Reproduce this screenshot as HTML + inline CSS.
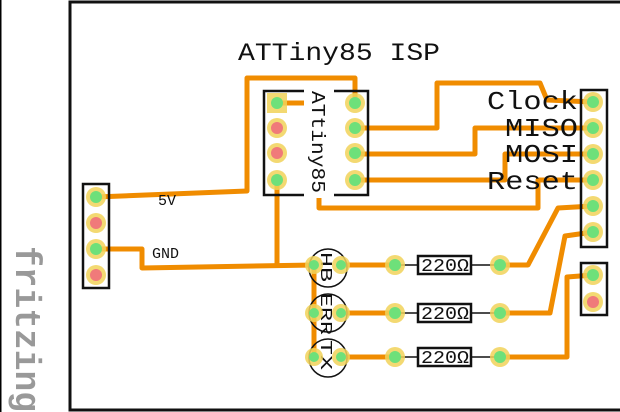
<!DOCTYPE html>
<html><head><style>body{margin:0;background:#fff;overflow:hidden}svg{display:block}</style></head><body>
<svg width="620" height="412" viewBox="0 0 620 412" xmlns="http://www.w3.org/2000/svg">
<rect x="0" y="0" width="620" height="412" fill="#fff"/>
<line x1="0.5" y1="0" x2="0.5" y2="412" stroke="#000" stroke-width="2"/>
<rect x="70" y="2" width="580" height="408" fill="#fff" stroke="#111" stroke-width="3"/>
<text transform="translate(16,246) rotate(90)" font-family="Liberation Mono, monospace" font-size="36" fill="#999" font-weight="bold" textLength="166" lengthAdjust="spacingAndGlyphs">fritzing</text>
<g fill="none" stroke="#f08c00" stroke-width="5" stroke-linejoin="round">
<polyline points="96,197 247,191 247,78 355,78 355,103"/>
<polyline points="277,103 312,103 319,110 319,208 538,208 538,180 593,180"/>
<polyline points="355,128 437,128 437,83 540,83 547,100 593,102"/>
<polyline points="355,154 475,154 475,128 593,128"/>
<polyline points="355,180 505,180 505,154 593,154"/>
<polyline points="96,249 142,249 142,268 314,265"/>
<polyline points="277,180 277,268"/>
<polyline points="314,265 314,357"/>
<polyline points="593,206 558,208 528,265 500,265"/>
<polyline points="593,232 565,236 550,313 500,313"/>
<polyline points="593,275 567,277 567,357 500,357"/>
<line x1="341" y1="265" x2="395" y2="265"/>
<line x1="341" y1="313" x2="395" y2="313"/>
<line x1="341" y1="357" x2="395" y2="357"/>
</g>
<g fill="none" stroke="#111" stroke-width="2.5">
<rect x="83" y="184" width="26" height="104"/>
<rect x="264" y="91" width="104" height="104"/>
<rect x="581" y="90" width="26" height="157"/>
<rect x="581" y="263" width="26" height="52"/>
</g>
<rect x="304" y="86" width="30" height="112" fill="#fff"/>
<text transform="translate(312,91) rotate(90)" font-family="Liberation Mono, monospace" font-size="19" fill="#111" textLength="102" lengthAdjust="spacingAndGlyphs">ATtiny85</text>
<g fill="none" stroke="#111" stroke-width="1.5">
<circle cx="328" cy="268" r="19"/><circle cx="328" cy="313" r="19"/><circle cx="328" cy="358" r="19"/>
<line x1="400" y1="265" x2="495" y2="265"/><line x1="400" y1="313" x2="495" y2="313"/><line x1="400" y1="357" x2="495" y2="357"/>
</g>
<g fill="#fff" stroke="#111" stroke-width="2.5">
<rect x="418" y="256" width="53" height="18"/><rect x="418" y="304" width="53" height="18"/><rect x="418" y="348" width="53" height="18"/>
</g>
<g font-family="Liberation Mono, DejaVu Sans Mono, monospace" font-size="18" fill="#111">
<text x="421" y="271" textLength="48" lengthAdjust="spacingAndGlyphs">220Ω</text><text x="421" y="319" textLength="48" lengthAdjust="spacingAndGlyphs">220Ω</text><text x="421" y="363" textLength="48" lengthAdjust="spacingAndGlyphs">220Ω</text>
</g>
<g font-family="Liberation Mono, monospace" font-size="17" fill="#111">
<text transform="translate(321,252) rotate(90)" textLength="30" lengthAdjust="spacingAndGlyphs">HB</text>
<text transform="translate(321,293) rotate(90)" textLength="42" lengthAdjust="spacingAndGlyphs">ERR</text>
<text transform="translate(321,340) rotate(90)" textLength="30" lengthAdjust="spacingAndGlyphs">TX</text>
</g>
<g font-family="Liberation Mono, monospace" font-size="15" fill="#111">
<text x="158" y="205">5V</text>
<text x="152" y="258">GND</text>
</g>
<text x="238" y="60" font-family="Liberation Mono, monospace" font-size="25" fill="#111" textLength="202" lengthAdjust="spacingAndGlyphs">ATTiny85 ISP</text>
<g font-family="Liberation Mono, monospace" font-size="26" fill="#111">
<text x="487" y="109" textLength="91" lengthAdjust="spacingAndGlyphs">Clock</text>
<text x="505" y="136" textLength="73" lengthAdjust="spacingAndGlyphs">MISO</text>
<text x="505" y="162" textLength="73" lengthAdjust="spacingAndGlyphs">MOSI</text>
<text x="487" y="189" textLength="91" lengthAdjust="spacingAndGlyphs">Reset</text>
</g>
<g fill="#f2d35a" opacity="0.85">
<circle cx="96" cy="197" r="10"/><circle cx="96" cy="223" r="10"/><circle cx="96" cy="249" r="10"/><circle cx="96" cy="275" r="10"/>
<rect x="267" y="93" width="20" height="20"/><circle cx="277" cy="128" r="10"/><circle cx="277" cy="153" r="10"/><circle cx="277" cy="180" r="10"/>
<circle cx="355" cy="103" r="10"/><circle cx="355" cy="128" r="10"/><circle cx="355" cy="153" r="10"/><circle cx="355" cy="180" r="10"/>
<circle cx="593" cy="102" r="10"/><circle cx="593" cy="128" r="10"/><circle cx="593" cy="154" r="10"/><circle cx="593" cy="180" r="10"/><circle cx="593" cy="206" r="10"/><circle cx="593" cy="232" r="10"/>
<circle cx="593" cy="275" r="10"/><circle cx="593" cy="302" r="10"/>
<circle cx="314" cy="265" r="9"/><circle cx="341" cy="265" r="9"/><circle cx="314" cy="313" r="9"/><circle cx="341" cy="313" r="9"/><circle cx="314" cy="357" r="9"/><circle cx="341" cy="357" r="9"/>
<circle cx="395" cy="265" r="10"/><circle cx="500" cy="265" r="10"/><circle cx="395" cy="313" r="10"/><circle cx="500" cy="313" r="10"/><circle cx="395" cy="357" r="10"/><circle cx="500" cy="357" r="10"/>
</g>
<g fill="#6ee07a">
<circle cx="96" cy="197" r="6"/><circle cx="96" cy="249" r="6"/>
<circle cx="277" cy="103" r="6"/><circle cx="277" cy="180" r="6"/>
<circle cx="355" cy="103" r="6"/><circle cx="355" cy="128" r="6"/><circle cx="355" cy="153" r="6"/><circle cx="355" cy="180" r="6"/>
<circle cx="593" cy="102" r="6"/><circle cx="593" cy="128" r="6"/><circle cx="593" cy="154" r="6"/><circle cx="593" cy="180" r="6"/><circle cx="593" cy="206" r="6"/><circle cx="593" cy="232" r="6"/>
<circle cx="593" cy="275" r="6"/>
<circle cx="314" cy="265" r="5"/><circle cx="341" cy="265" r="5"/><circle cx="314" cy="313" r="5"/><circle cx="341" cy="313" r="5"/><circle cx="314" cy="357" r="5"/><circle cx="341" cy="357" r="5"/>
<circle cx="395" cy="265" r="6"/><circle cx="500" cy="265" r="6"/><circle cx="395" cy="313" r="6"/><circle cx="500" cy="313" r="6"/><circle cx="395" cy="357" r="6"/><circle cx="500" cy="357" r="6"/>
</g>
<g fill="#f07a7a">
<circle cx="96" cy="223" r="6"/><circle cx="96" cy="275" r="6"/>
<circle cx="277" cy="128" r="6"/><circle cx="277" cy="153" r="6"/>
<circle cx="593" cy="302" r="6"/>
</g>
</svg>
</body></html>
